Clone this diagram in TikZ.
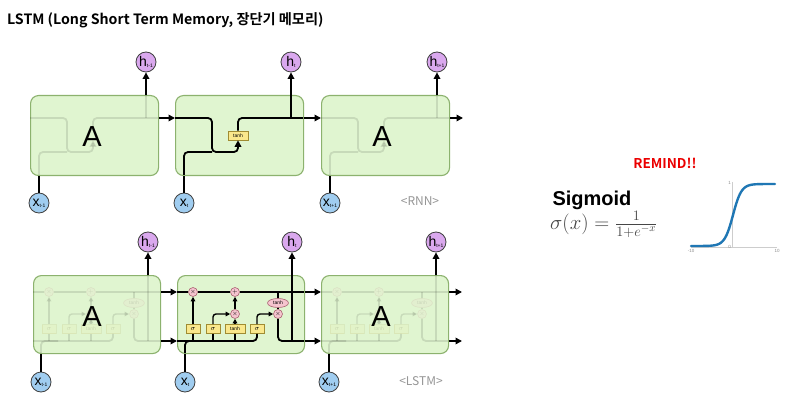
\documentclass[tikz,border=0pt]{standalone}
\usepackage{fontspec}
\setmainfont{Liberation Sans}
\newfontfamily\kr{Noto Sans CJK KR}[BoldFont={Noto Sans CJK KR Bold}]
\usetikzlibrary{arrows.meta,shapes.geometric}
\definecolor{boxfill}{RGB}{224,245,208}
\definecolor{boxedge}{RGB}{140,178,110}
\definecolor{hfill}{RGB}{218,168,238}
\definecolor{xfill}{RGB}{160,205,240}
\definecolor{gatefill}{RGB}{250,232,140}
\definecolor{gateedge}{RGB}{160,140,50}
\definecolor{opfill}{RGB}{245,196,206}
\definecolor{opedge}{RGB}{170,100,115}
\definecolor{sigblue}{RGB}{31,119,180}
\definecolor{capgrey}{RGB}{150,150,150}
\definecolor{axgrey}{RGB}{205,205,205}
\definecolor{formgrey}{RGB}{70,70,70}
\definecolor{remindred}{RGB}{235,0,0}

\newcommand\rnncell[5]{%
\begin{scope}[#4]
 \node[gate, minimum width=20pt, font=\fontsize{5}{5}\selectfont, #5] (#1t) at (#2+63,#3+40.5) {tanh};
 \coordinate (#1in) at (#2,#3+23);
 \coordinate (#1j) at (#2+37,#3+57);
 \coordinate (#1xin) at (#2+9,#3+80);
 \coordinate (#1out) at (#2+128,#3+23);
 \coordinate (#1htop) at (#2+116,#3);
 \draw[flow, tipbig, rounded corners=4pt] (#1in) -| (#1j) -| (#1t.south);
 \draw[flow, rounded corners=4pt] (#1xin) |- (#1j);
 \draw[flow, rounded corners=4pt] (#1t.north) |- (#1out);
 \draw[flow] (#1htop |- #1out) -- (#1htop);
\end{scope}}

\newcommand\lstmcell[4]{%
\begin{scope}[#4]
 \node[op] (#1xf) at (#2+16,#3+17) {$\times$};
 \node[op] (#1pl) at (#2+58,#3+17) {$+$};
 \node[op] (#1xi) at (#2+58,#3+39) {$\times$};
 \node[op] (#1xo) at (#2+101,#3+39) {$\times$};
 \node[opell] (#1th) at (#2+101,#3+28) {tanh};
 \node[gate] (#1gf) at (#2+16,#3+54) {$\sigma$};
 \node[gate] (#1gi) at (#2+36,#3+54) {$\sigma$};
 \node[gate, minimum width=20pt, font=\fontsize{5}{5}\selectfont] (#1gc) at (#2+58,#3+54) {tanh};
 \node[gate] (#1go) at (#2+80,#3+54) {$\sigma$};
 \coordinate (#1cin) at (#2,#3+17);
 \coordinate (#1cout) at (#2+127,#3+17);
 \coordinate (#1hin) at (#2,#3+66);
 \coordinate (#1hout) at (#2+127,#3+66);
 \coordinate (#1xin) at (#2+8,#3+78);
 \coordinate (#1xj) at (#2+25,#3+66);
 \coordinate (#1htop) at (#2+115,#3);
 \draw[flow] (#1cin) -- (#1xf);
 \draw[flow] (#1xf) -- (#1pl);
 \draw[flow] (#1pl) -- (#1cout);
 \draw[sflow] (#1th.north) -- (#1th.north |- #1cin);
 \draw[flow, rounded corners=4pt] (#1hin) -| (#1go.south);
 \draw[flow, rounded corners=4pt] (#1xin) |- (#1xj);
 \draw[sflow] (#1gf.south) -- (#1gf.south |- #1hin);
 \draw[sflow] (#1gi.south) -- (#1gi.south |- #1hin);
 \draw[sflow] (#1gc.south) -- (#1gc.south |- #1hin);
 \draw[sflow, tipsmall] (#1gf) -- (#1xf);
 \draw[sflow, tipsmall, rounded corners=3pt] (#1gi.north) |- (#1xi.west);
 \draw[sflow, tipsmall] (#1gc) -- (#1xi);
 \draw[sflow, tipsmall] (#1xi) -- (#1pl);
 \draw[sflow, tipsmall, rounded corners=3pt] (#1go.north) |- (#1xo.west);
 \draw[sflow] (#1th) -- (#1xo);
 \draw[flow, rounded corners=4pt] (#1xo.south) |- (#1hout);
 \draw[flow] (#1htop |- #1hout) -- (#1htop);
\end{scope}}

\begin{document}
\begin{tikzpicture}[x=1pt,y=-1pt,
  flow/.style={line width=1.8pt, draw=black},
  sflow/.style={line width=1.4pt, draw=black},
  tipbig/.style={-{Triangle[length=6.5pt,width=6.5pt]}},
  tipsmall/.style={-{Triangle[length=4.5pt,width=4.5pt]}},
  cell/.style={draw=boxedge, fill=boxfill, line width=1.1pt, rounded corners=8pt,
    minimum width=128pt, minimum height=80pt, anchor=north west, inner sep=0pt},
  lcell/.style={cell, minimum width=127pt, minimum height=78pt},
  hnode/.style={circle, draw=black!75, fill=hfill, line width=0.8pt, minimum size=20pt, inner sep=0pt},
  xnode/.style={circle, draw=black!75, fill=xfill, line width=0.8pt, minimum size=20pt, inner sep=0pt},
  gate/.style={draw=gateedge, fill=gatefill, line width=0.6pt, minimum width=14pt, minimum height=9pt,
    inner sep=0pt, font=\fontsize{7}{7}\selectfont},
  op/.style={circle, draw=opedge, fill=opfill, line width=0.6pt, minimum size=9pt, inner sep=0pt,
    font=\fontsize{6}{6}\selectfont},
  opell/.style={ellipse, draw=opedge, fill=opfill, line width=0.6pt, minimum width=21pt, minimum height=9pt,
    inner sep=0pt, font=\fontsize{5}{5}\selectfont},
  letterA/.style={font=\fontsize{29}{29}\selectfont, inner sep=0pt},
  caption/.style={font=\kr\fontsize{12}{12}\selectfont, text=capgrey},
  faded/.style={opacity=0.11},
  hidden/.style={opacity=0},
  axis/.style={draw=axgrey, line width=0.8pt},
  ticklab/.style={font=\fontsize{4.5}{4.5}\selectfont, text=black!45, inner sep=0pt}
]
\useasboundingbox (0,0) rectangle (805,414);
\fill[white] (0,0) rectangle (805,414);

% title
\node[anchor=west, font=\kr\bfseries\fontsize{14.2}{16}\selectfont, inner sep=0pt] (title) at (7,20)
  {LSTM (Long Short Term Memory, 장단기 메모리)};

% ---------------- RNN row ----------------
\newcommand\hlab[1]{{\fontsize{14}{14}\selectfont h}\raisebox{-1.2pt}{\fontsize{5}{5}\selectfont #1}}
\newcommand\xlab[1]{{\fontsize{14}{14}\selectfont x}\raisebox{-1.2pt}{\fontsize{5}{5}\selectfont #1}}

\node[cell] (R1) at (30,95) {};
\node[cell] (R2) at (175,95) {};
\node[cell] (R3) at (321,95) {};
\node[hnode] (H1) at (146,62) {\hlab{t-1}};
\node[hnode] (H2) at (291,62) {\hlab{t}};
\node[hnode] (H3) at (437,62) {\hlab{t+1}};
\node[xnode] (X1) at (39,203) {\xlab{t-1}};
\node[xnode] (X2) at (184,203) {\xlab{t}};
\node[xnode] (X3) at (330,203) {\xlab{t+1}};

\rnncell{ra}{30}{95}{faded}{hidden}
\rnncell{rb}{175}{95}{}{}
\rnncell{rc}{321}{95}{faded}{hidden}

\node[letterA] (A1) at (92,137) {A};
\node[letterA] (A3) at (382,137) {A};

\coordinate (rout) at (463,118);
\draw[flow, tipbig] (R1.east |- rout) -- (R2.west |- rout);
\draw[flow, tipbig] (R2.east |- rout) -- (R3.west |- rout);
\draw[flow, tipbig] (R3.east |- rout) -- (rout);
\draw[flow, tipbig] (H1 |- R1.north) -- (H1.south);
\draw[flow, tipbig] (H2 |- R2.north) -- (H2.south);
\draw[flow, tipbig] (H3 |- R3.north) -- (H3.south);
\draw[flow] (X1.north) -- (X1 |- R1.south);
\draw[flow] (X2.north) -- (X2 |- R2.south);
\draw[flow] (X3.north) -- (X3 |- R3.south);

\node[caption] (rnnlab) at (420,201) {<RNN>};

% ---------------- LSTM row ----------------
\node[lcell] (L1) at (33,275) {};
\node[lcell] (L2) at (177,275) {};
\node[lcell] (L3) at (321,275) {};
\node[hnode] (G1) at (148,242) {\hlab{t-1}};
\node[hnode] (G2) at (292,242) {\hlab{t}};
\node[hnode] (G3) at (436,242) {\hlab{t+1}};
\node[xnode] (Y1) at (41,382) {\xlab{t-1}};
\node[xnode] (Y2) at (185,382) {\xlab{t}};
\node[xnode] (Y3) at (329,382) {\xlab{t+1}};

\lstmcell{la}{33}{275}{faded}
\lstmcell{lb}{177}{275}{}
\lstmcell{lc}{321}{275}{faded}

\node[letterA] (B1) at (92,317) {A};
\node[letterA] (B3) at (381,317) {A};

\coordinate (cout) at (462,292);
\coordinate (hout) at (462,341);
\draw[flow, tipbig] (L1.east |- cout) -- (L2.west |- cout);
\draw[flow, tipbig] (L2.east |- cout) -- (L3.west |- cout);
\draw[flow, tipbig] (L3.east |- cout) -- (cout);
\draw[flow, tipbig] (L1.east |- hout) -- (L2.west |- hout);
\draw[flow, tipbig] (L2.east |- hout) -- (L3.west |- hout);
\draw[flow, tipbig] (L3.east |- hout) -- (hout);
\draw[flow, tipbig] (G1 |- L1.north) -- (G1.south);
\draw[flow, tipbig] (G2 |- L2.north) -- (G2.south);
\draw[flow, tipbig] (G3 |- L3.north) -- (G3.south);
\draw[flow] (Y1.north) -- (Y1 |- L1.south);
\draw[flow] (Y2.north) -- (Y2 |- L2.south);
\draw[flow] (Y3.north) -- (Y3 |- L3.south);

\node[caption] (lstmlab) at (421,381) {<LSTM>};

% ---------------- Sigmoid reminder ----------------
\node[font=\kr\bfseries\fontsize{13.5}{13.5}\selectfont, text=remindred] (remind) at (665,163) {REMIND!!};
\node[anchor=base, font=\bfseries\fontsize{20}{20}\selectfont, inner sep=0pt] (sig) at (592,205) {Sigmoid};
\node[anchor=base west, font=\fontsize{21}{21}\selectfont, text=formgrey, inner sep=0pt] (formula) at (550,229)
  {$\sigma(x) = \frac{1}{1+e^{-x}}$};

\coordinate (axL) at (691,247);
\coordinate (axR) at (777,247);
\coordinate (ayT) at (732,182);
\coordinate (ayB) at (732,247);
\draw[axis] (axL) -- (axR);
\draw[axis] (ayT) -- (ayB);
\draw[sigblue, line width=2.4pt, line cap=round]
  plot[domain=-10:10, samples=80, smooth] ({733+4.2*\x},{246-62*(0.5+0.5*tanh(\x/2))});
\node[ticklab, anchor=north] (tl1) at (691,249) {-10};
\node[ticklab, anchor=north] (tl2) at (777,249) {10};
\node[ticklab, anchor=east] (tl3) at (731,247) {0};
\node[ticklab, anchor=east] (tl4) at (731,183) {1};
\end{tikzpicture}
\end{document}
